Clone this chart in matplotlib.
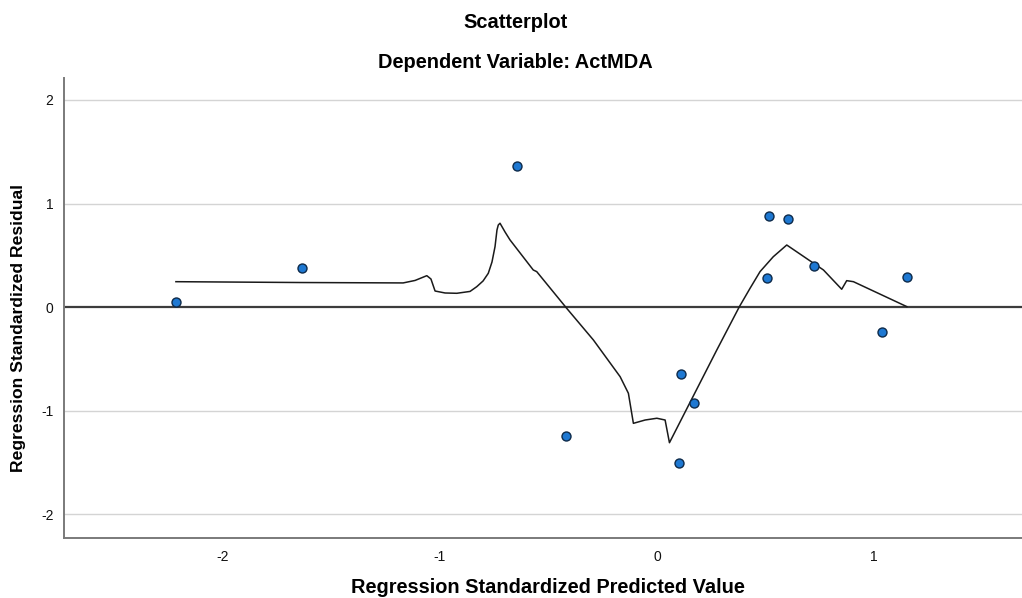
import matplotlib.pyplot as plt

plt.rcParams['font.family'] = ['Liberation Sans', 'DejaVu Sans']
plt.rcParams['axes.unicode_minus'] = False

# standardized predicted value vs standardized residual
pred = [-2.216, -1.636, -0.646, -0.419, 0.110, 0.172, 0.103,
        0.516, 0.602, 0.505, 0.723, 1.035, 1.150]
resid = [0.053, 0.375, 1.363, -1.240, -0.648, -0.928, -1.507,
         0.883, 0.851, 0.282, 0.398, -0.242, 0.294]

# smoothed fit line through the residuals
fit_x = [-2.215, -1.644, -1.169, -1.114, -1.060, -1.041, -1.022, -0.976,
         -0.922, -0.861, -0.830, -0.801, -0.777, -0.760, -0.746, -0.737,
         -0.731, -0.723, -0.700, -0.677, -0.570, -0.554, -0.416, -0.293,
         -0.170, -0.132, -0.109, -0.055, -0.001, 0.037, 0.057, 0.275,
         0.379, 0.428, 0.474, 0.535, 0.597, 0.766, 0.850, 0.873, 0.904, 1.150]
fit_y = [0.246, 0.238, 0.234, 0.258, 0.304, 0.272, 0.156, 0.137,
         0.134, 0.152, 0.198, 0.253, 0.327, 0.436, 0.584, 0.745,
         0.793, 0.810, 0.726, 0.649, 0.359, 0.343, -0.011, -0.317,
         -0.671, -0.831, -1.121, -1.089, -1.072, -1.089, -1.308, -0.413,
         0.005, 0.182, 0.343, 0.487, 0.600, 0.359, 0.173, 0.256, 0.246, 0.005]

y_ticks = [-2, -1, 0, 1, 2]
x_ticks = [-2, -1, 0, 1]

fig = plt.figure(figsize=(10.22, 5.98), dpi=100)
ax = fig.add_axes([0.0631, 0.1008, 0.9369, 0.7688])

for t in y_ticks:
    if t != 0:
        ax.axhline(t, color='#d4d4d4', lw=1.0, zorder=1)
ax.axhline(0, color='#3c3c3c', lw=1.6, zorder=2)

ax.plot(fit_x, fit_y, color='#1a1a1a', lw=1.1, zorder=3)
ax.scatter(pred, resid, s=42, color='#1e78d2', edgecolors='#0d2a4a',
           linewidths=1.0, zorder=4)

ax.set_xlim(-2.728, 1.68)
ax.set_ylim(-2.225, 2.212)
ax.set_xticks(x_ticks)
ax.set_yticks(y_ticks)
ax.tick_params(length=0, labelsize=10, colors='#111111')
ax.tick_params(axis='x', pad=9)
ax.tick_params(axis='y', pad=8)

for side in ['top', 'right']:
    ax.spines[side].set_visible(False)
for side in ['left', 'bottom']:
    ax.spines[side].set_color('#7a7a7a')
    ax.spines[side].set_linewidth(1.4)

# axis titles placed in figure coordinates
fig.text(0.536, 0.018, 'Regression Standardized Predicted Value',
         ha='center', va='center', fontsize=14.4, fontweight='bold')
fig.text(0.018, 0.452, 'Regression Standardized Residual', rotation=90,
         ha='center', va='center', fontsize=12.6, fontweight='bold')

fig.text(0.504, 0.963, 'Scatterplot', ha='center', va='center',
         fontsize=14.4, fontweight='bold')
fig.text(0.504, 0.896, 'Dependent Variable: ActMDA', ha='center', va='center',
         fontsize=14.4, fontweight='bold')

fig.savefig('out.png', dpi=100)
